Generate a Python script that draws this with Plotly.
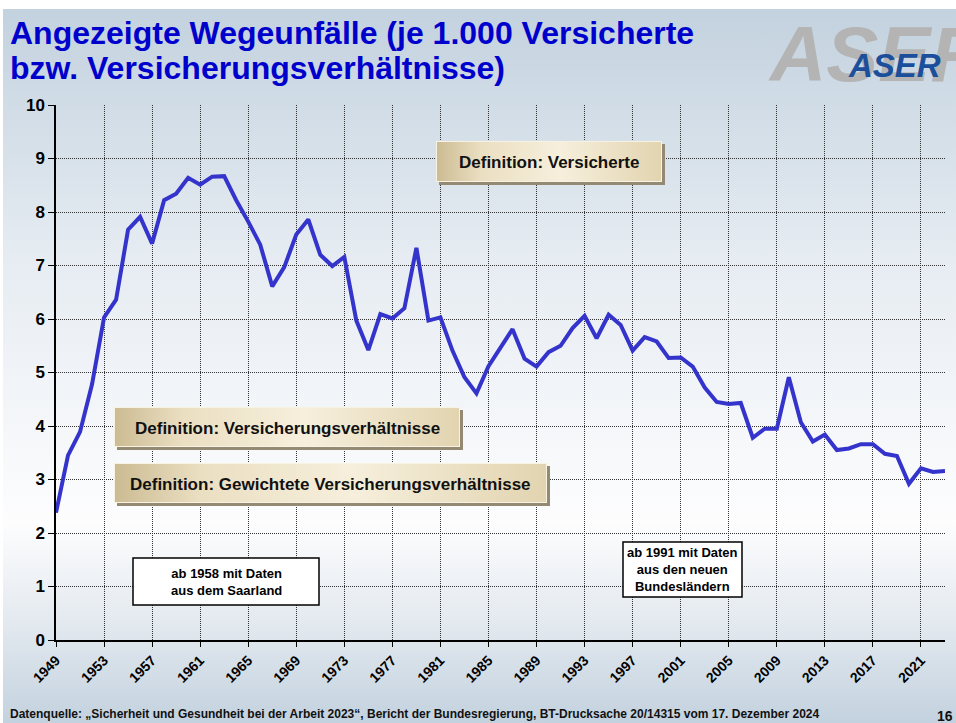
import base64
import plotly.graph_objects as go

# ---------------- data ----------------
years = list(range(1949, 2024))
unfaelle = [
    2.38, 3.45, 3.89, 4.78, 6.03, 6.36, 7.67, 7.91, 7.41, 8.22,
    8.34, 8.64, 8.51, 8.66, 8.67, 8.22, 7.82, 7.39, 6.61, 6.97,
    7.58, 7.86, 7.20, 6.99, 7.16, 5.97, 5.42, 6.09, 6.01, 6.20,
    7.33, 5.97, 6.03, 5.41, 4.91, 4.61, 5.12, 5.47, 5.81, 5.26,
    5.11, 5.38, 5.50, 5.83, 6.06, 5.64, 6.08, 5.89, 5.41, 5.66,
    5.58, 5.27, 5.28, 5.11, 4.72, 4.45, 4.41, 4.43, 3.78, 3.95,
    3.95, 4.91, 4.07, 3.71, 3.84, 3.55, 3.58, 3.66, 3.66, 3.48,
    3.44, 2.92, 3.21, 3.14, 3.16,
]
tick_years = list(range(1949, 2022, 4))
tick_labels = [str(y) for y in tick_years]
y_ticks = list(range(0, 11))

title_line1 = "Angezeigte Wegeunfälle (je 1.000 Versicherte"
title_line2 = "bzw. Versicherungsverhältnisse)"
source_text = ("Datenquelle: „Sicherheit und Gesundheit bei der Arbeit 2023“, "
               "Bericht der Bundesregierung, BT-Drucksache 20/14315 vom 17. Dezember 2024")
def_labels = ["Definition: Versicherte",
              "Definition: Versicherungsverhältnisse",
              "Definition: Gewichtete Versicherungsverhältnisse"]
note_saar = "ab 1958 mit Daten<br>aus dem Saarland"
note_ost = "ab 1991 mit Daten<br>aus den neuen<br>Bundesländern"

# ---------------- layout geometry ----------------
W, H = 956, 723
L, R, T, B = 56, 11, 105, 83
PW, PH = W - L - R, H - T - B
FONT = "Arial, 'Liberation Sans', sans-serif"


def fx(px):
    return (px - L) / PW


def fy(py):
    return (H - B - py) / PH


def svg_uri(svg):
    return "data:image/svg+xml;base64," + base64.b64encode(svg.encode("utf-8")).decode()


bg_svg = (
    f"<svg xmlns='http://www.w3.org/2000/svg' width='{W}' height='{H}' viewBox='0 0 {W} {H}' preserveAspectRatio='none'>"
    "<defs><linearGradient id='g' x1='0' y1='0' x2='0' y2='1'>"
    "<stop offset='0' stop-color='#c3d2df'/>"
    "<stop offset='0.35' stop-color='#e6ecf2'/>"
    "<stop offset='0.72' stop-color='#fdfdfe'/>"
    "<stop offset='0.86' stop-color='#e3e9ef'/>"
    "<stop offset='1' stop-color='#c3d2df'/>"
    "</linearGradient></defs>"
    f"<rect x='0' y='0' width='{W}' height='{H}' fill='#ffffff'/>"
    f"<rect x='3' y='9' width='{W-3}' height='{H-9}' fill='url(#g)'/>"
    "</svg>"
)


def box_svg(w, h):
    return (
        f"<svg xmlns='http://www.w3.org/2000/svg' width='{w+3}' height='{h+3}' viewBox='0 0 {w+3} {h+3}' preserveAspectRatio='none'>"
        "<defs><linearGradient id='b' x1='0' y1='0' x2='1' y2='0'>"
        "<stop offset='0' stop-color='#cbbb92'/>"
        "<stop offset='0.2' stop-color='#ebdfc2'/>"
        "<stop offset='0.55' stop-color='#f6efdc'/>"
        "<stop offset='1' stop-color='#e2d4b0'/>"
        "</linearGradient></defs>"
        f"<rect x='3' y='3' width='{w}' height='{h}' fill='#948a74'/>"
        f"<rect x='0' y='0' width='{w}' height='{h}' fill='url(#b)'/>"
        f"<rect x='0.5' y='0.5' width='{w-1}' height='{h-1}' fill='none' stroke='#f8f2e2' stroke-width='1'/>"
        "</svg>"
    )


images = [dict(source=svg_uri(bg_svg), xref="paper", yref="paper",
               x=fx(0), y=fy(0), sizex=W / PW, sizey=H / PH,
               xanchor="left", yanchor="top", sizing="stretch", layer="below")]

def_boxes = [(436, 141, 226, 41), (114, 407, 346, 40), (114, 463, 433, 40)]
annotations = []
for (bx, by, bw, bh), lbl in zip(def_boxes, def_labels):
    images.append(dict(source=svg_uri(box_svg(bw, bh)), xref="paper", yref="paper",
                       x=fx(bx), y=fy(by), sizex=(bw + 3) / PW, sizey=(bh + 3) / PH,
                       xanchor="left", yanchor="top", sizing="stretch", layer="above"))
    annotations.append(dict(text=f"<b>{lbl}</b>", xref="paper", yref="paper",
                            x=fx(bx + bw / 2), y=fy(by + bh / 2 + 1), showarrow=False,
                            xanchor="center", yanchor="middle",
                            font=dict(family=FONT, size=17, color="#111111")))

shapes = []
for (x0, y0, x1, y1), txt in [((133, 558, 319, 605), note_saar), ((623, 542, 742, 597), note_ost)]:
    shapes.append(dict(type="rect", xref="paper", yref="paper", x0=fx(x0), x1=fx(x1),
                       y0=fy(y1), y1=fy(y0), fillcolor="white",
                       line=dict(color="black", width=1.5), layer="above"))
    annotations.append(dict(text=f"<b>{txt}</b>", xref="paper", yref="paper",
                            x=fx((x0 + x1) / 2), y=fy((y0 + y1) / 2), showarrow=False,
                            xanchor="center", yanchor="middle", align="center",
                            font=dict(family=FONT, size=13, color="black")))

# title
annotations.append(dict(text=f"<b>{title_line1}</b>", xref="paper", yref="paper",
                        x=fx(8), y=fy(33), showarrow=False, xanchor="left", yanchor="middle",
                        font=dict(family=FONT, size=32, color="#0000cc")))
annotations.append(dict(text=f"<b>{title_line2}</b>", xref="paper", yref="paper",
                        x=fx(8), y=fy(68), showarrow=False, xanchor="left", yanchor="middle",
                        font=dict(family=FONT, size=32, color="#0000cc")))
# logo
annotations.append(dict(text="<b><i>ASER</i></b>", xref="paper", yref="paper",
                        x=fx(766), y=fy(54), showarrow=False, xanchor="left", yanchor="middle",
                        font=dict(family=FONT, size=78, color="#b4b4b4")))
annotations.append(dict(text="<b><i>ASER</i></b>", xref="paper", yref="paper",
                        x=fx(846), y=fy(65), showarrow=False, xanchor="left", yanchor="middle",
                        font=dict(family=FONT, size=33, color="#1b4f9c")))
# footer
annotations.append(dict(text=f"<b>{source_text}</b>", xref="paper", yref="paper",
                        x=fx(8), y=fy(714), showarrow=False, xanchor="left", yanchor="middle",
                        font=dict(family=FONT, size=12, color="#111111")))
annotations.append(dict(text="<b>16</b>", xref="paper", yref="paper",
                        x=fx(955), y=fy(716), showarrow=False, xanchor="right", yanchor="middle",
                        font=dict(family=FONT, size=14, color="#111111")))

fig = go.Figure()
fig.add_trace(go.Scatter(x=years, y=unfaelle, mode="lines",
                         line=dict(color="#3434cc", width=4), hoverinfo="x+y"))

fig.update_layout(
    width=W, height=H,
    margin=dict(l=L, r=R, t=T, b=B, pad=0),
    paper_bgcolor="white", plot_bgcolor="rgba(0,0,0,0)",
    showlegend=False,
    images=images, shapes=shapes, annotations=annotations,
    font=dict(family=FONT, color="black"),
)
fig.update_xaxes(range=[1949, 2023], tickmode="array", tickvals=tick_years,
                 ticktext=[f"<b>{t}</b>" for t in tick_labels], tickangle=-45,
                 tickfont=dict(size=14, color="black"),
                 showgrid=True, gridcolor="#333333", gridwidth=1, griddash="1px,1px",
                 showline=True, linecolor="black", linewidth=1.5,
                 ticks="outside", ticklen=5, tickcolor="black", zeroline=False)
fig.update_yaxes(range=[0, 10], tickmode="array", tickvals=y_ticks,
                 ticktext=[f"<b>{t}</b>" for t in y_ticks],
                 tickfont=dict(size=17, color="black"),
                 showgrid=True, gridcolor="#333333", gridwidth=1, griddash="1px,1px",
                 showline=True, linecolor="black", linewidth=1.5,
                 ticks="outside", ticklen=6, tickcolor="black", zeroline=False)

fig.write_html("out.html", config={"displayModeBar": False},
               post_script="document.body.style.margin='0';document.body.style.overflow='hidden';")
